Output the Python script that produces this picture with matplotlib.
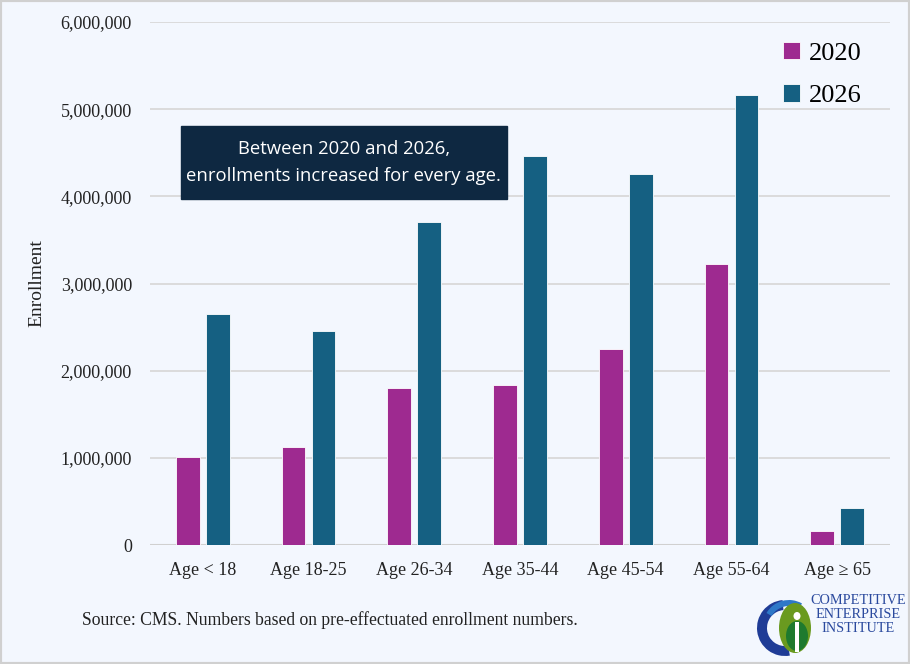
import numpy as np
import matplotlib
matplotlib.use('Agg')
from matplotlib import pyplot as plt
from matplotlib.patches import Rectangle, Ellipse, Wedge


categories = ['Age < 18', 'Age 18-25', 'Age 26-34', 'Age 35-44', 'Age 45-54', 'Age 55-64', 'Age \u2265 65']
enroll_2020 = [1010000, 1120000, 1800000, 1835000, 2250000, 3225000, 160000]
enroll_2026 = [2655000, 2455000, 3705000, 4460000, 4255000, 5165000, 420000]
series_names = ['2020', '2026']
yticks = [0, 1000000, 2000000, 3000000, 4000000, 5000000, 6000000]

bg = '#F3F7FE'
c2020 = '#9E2A90'
c2026 = '#156082'
serif = ['Liberation Serif', 'DejaVu Serif']
sans = ['Open Sans', 'DejaVu Sans']

fig = plt.figure(figsize=(9.1, 6.64), dpi=100)
fig.patch.set_facecolor(bg)
fig.patches.append(Rectangle((0, 0), 1, 1, transform=fig.transFigure, fill=False,
                             edgecolor='#D0D0D0', linewidth=3))

ax = fig.add_axes([150 / 910, 1 - 545 / 664, 740 / 910, 523 / 664])
ax.set_facecolor(bg)

x = np.arange(len(categories))
w = 0.225
ax.bar(x - 0.142, enroll_2020, w, color=c2020, edgecolor='white', linewidth=0.6, label=series_names[0], zorder=3)
ax.bar(x + 0.142, enroll_2026, w, color=c2026, edgecolor='white', linewidth=0.6, label=series_names[1], zorder=3)

ax.set_xlim(-0.5, len(categories) - 0.5)
ax.set_ylim(0, 6000000)
ax.set_yticks(yticks)
ax.set_yticklabels([f'{v:,}' for v in yticks], family=serif, fontsize=13, color='#222222')
ax.set_xticks(x)
ax.set_xticklabels(categories, family=serif, fontsize=13, color='#222222')
ax.tick_params(length=0)
ax.tick_params(axis='y', pad=13)
ax.tick_params(axis='x', pad=12)
ax.grid(axis='y', color='#D9D9D9', linewidth=1.3, zorder=0)
for s in ax.spines.values():
    s.set_visible(False)
ax.axhline(0, color='#D0D0D0', linewidth=1.5, zorder=2)

ax.set_ylabel('Enrollment', family=serif, fontsize=14, color='#222222', labelpad=11)

leg = ax.legend(loc='upper right', bbox_to_anchor=(0.962, 0.962), frameon=False,
                prop={'family': serif, 'size': 19}, handlelength=0.65, handleheight=0.65,
                handletextpad=0.35, labelspacing=0.72, borderpad=0, borderaxespad=0)

# callout box
ax.add_patch(Rectangle((0.042, 0.6616), 0.4405, 0.1395, transform=ax.transAxes,
                       facecolor='#0E2841', edgecolor='#0E2841', zorder=5))
ax.text(0.262, 0.7314, 'Between 2020 and 2026,\nenrollments increased for every age.',
        transform=ax.transAxes, ha='center', va='center', family=sans, fontsize=13.3,
        color='white', linespacing=1.62, zorder=6)

fig.text(82 / 910, 1 - 620 / 664, 'Source: CMS. Numbers based on pre-effectuated enrollment numbers.',
         family=serif, fontsize=12.7, color='#222222', va='center')

# logo
lax = fig.add_axes([755 / 910, 1 - 660 / 664, 150 / 910, 66 / 664])
lax.set_xlim(0, 150)
lax.set_ylim(0, 66)
lax.set_aspect('equal')
lax.axis('off')
lax.add_patch(Wedge((30, 32), 28, 95, 280, width=10, facecolor='#1F3C96', edgecolor='none'))
lax.add_patch(Wedge((34, 34), 26, 60, 150, width=6, facecolor='#2E78C8', edgecolor='none'))
lax.add_patch(Ellipse((40, 32), 32, 50, facecolor='#6A9A1F', edgecolor='none'))
lax.add_patch(Ellipse((42, 24), 22, 30, facecolor='#1E7A2E', edgecolor='none'))
lax.add_patch(Ellipse((42, 44), 7, 8, facecolor='white', edgecolor='none'))
lax.add_patch(Rectangle((40, 8), 4, 30, facecolor='white', edgecolor='none'))
for i, line in enumerate(['COMPETITIVE', 'ENTERPRISE', 'INSTITUTE']):
    lax.text(103, 60 - i * 14.5, line, ha='center', va='center', family=serif,
             fontsize=10.3, color='#2B4A9E')

fig.savefig('out.png', dpi=100, facecolor=bg)
